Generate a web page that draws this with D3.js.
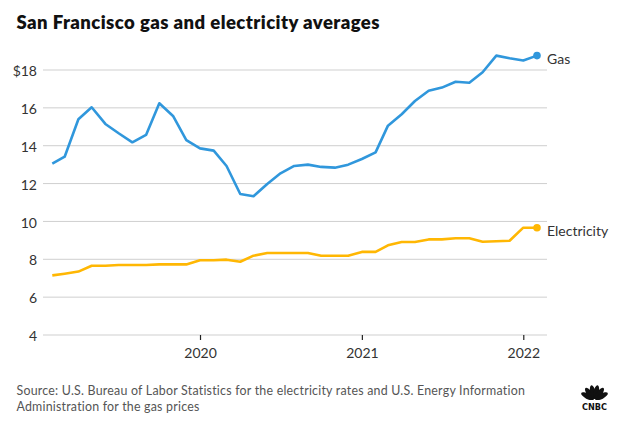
<!DOCTYPE html>
<html>
<head>
<meta charset="utf-8">
<script src="https://cdn.jsdelivr.net/npm/d3@7"></script>
<style>
  html, body { margin: 0; padding: 0; background: #fff; }
  svg { display: block; font-family: Lato, "Open Sans", sans-serif; }
</style>
</head>
<body>
<svg id="chart" width="625" height="441"></svg>
<script>
// ---- Data ----
const months = [
  "2019-02","2019-03","2019-04","2019-05","2019-06","2019-07","2019-08","2019-09","2019-10","2019-11","2019-12",
  "2020-01","2020-02","2020-03","2020-04","2020-05","2020-06","2020-07","2020-08","2020-09","2020-10","2020-11","2020-12",
  "2021-01","2021-02","2021-03","2021-04","2021-05","2021-06","2021-07","2021-08","2021-09","2021-10","2021-11","2021-12",
  "2022-01","2022-02"
];
const gas = [
  13.05, 13.42, 15.40, 16.03, 15.15, 14.66, 14.18, 14.57, 16.24, 15.57, 14.30,
  13.86, 13.74, 12.93, 11.45, 11.33, 11.98, 12.54, 12.93, 13.00, 12.88, 12.84, 13.00,
  13.30, 13.65, 15.06, 15.66, 16.36, 16.90, 17.07, 17.38, 17.33, 17.88, 18.76, 18.62,
  18.50, 18.76
];
const electricity = [
  7.15, 7.24, 7.35, 7.66, 7.66, 7.70, 7.70, 7.70, 7.73, 7.73, 7.73,
  7.95, 7.95, 7.98, 7.87, 8.19, 8.33, 8.33, 8.33, 8.33, 8.19, 8.19, 8.19,
  8.39, 8.39, 8.74, 8.91, 8.91, 9.05, 9.05, 9.11, 9.11, 8.93, 8.95, 8.98,
  9.67, 9.67
];
const yTicks = [4, 6, 8, 10, 12, 14, 16, 18];
const xTickLabels = ["2020", "2021", "2022"];
const seriesNames = ["Gas", "Electricity"];
const title = "San Francisco gas and electricity averages";
const sourceLines = [
  "Source: U.S. Bureau of Labor Statistics for the electricity rates and U.S. Energy Information",
  "Administration for the gas prices"
];

// ---- Setup ----
const svg = d3.select("#chart");
const parse = d3.timeParse("%Y-%m");
const dates = months.map(parse);
const colors = { Gas: "#3097dc", Electricity: "#ffb703" };

const gridLeft = 43, gridRight = 547;
const x = d3.scaleTime()
  .domain([dates[0], dates[dates.length - 1]])
  .range([52.3, 537]);
const y = d3.scaleLinear().domain([4, 18]).range([335, 70]);

// fit text to a target width by letter-spacing
function fitWidth(sel, target) {
  sel.each(function() {
    const w = this.getComputedTextLength();
    const n = this.textContent.length;
    if (n > 1) d3.select(this).attr("letter-spacing", ((target - w) / (n - 1)).toFixed(3));
  });
}

// Title
svg.append("text")
  .attr("x", 16.5).attr("y", 29)
  .attr("font-size", 18.5).attr("font-weight", 800)
  .attr("fill", "#111")
  .text(title)
  .call(fitWidth, 363);

// Gridlines
svg.append("g").selectAll("line").data(yTicks).join("line")
  .attr("x1", gridLeft).attr("x2", gridRight)
  .attr("y1", d => y(d)).attr("y2", d => y(d))
  .attr("stroke", "#cfcfcf").attr("stroke-width", 1);

// Y axis labels
const yAxis = d3.axisLeft(y).tickValues(yTicks).tickSize(0).tickPadding(0)
  .tickFormat(d => d === 18 ? "$18" : String(d));
const gy = svg.append("g").attr("transform", "translate(37,0)").call(yAxis);
gy.select(".domain").remove();
gy.selectAll("text").attr("font-size", 14).attr("fill", "#333")
  .attr("font-family", "Lato, sans-serif").attr("dy", "0.4em");

// X axis
const xTickDates = xTickLabels.map(s => d3.timeParse("%Y")(s));
const xAxis = d3.axisBottom(x).tickValues(xTickDates).tickSize(5).tickPadding(8)
  .tickFormat(d3.timeFormat("%Y"));
const gx = svg.append("g").attr("transform", `translate(0,${y(4)})`).call(xAxis);
gx.select(".domain").remove();
gx.selectAll("line").attr("stroke", "#222").attr("stroke-width", 1.2);
gx.selectAll("text").attr("font-size", 14).attr("fill", "#333")
  .attr("font-family", "Lato, sans-serif");

// Lines
const series = [
  { name: seriesNames[0], values: gas },
  { name: seriesNames[1], values: electricity }
];
const line = d3.line().x((d, i) => x(dates[i])).y(d => y(d));
svg.append("g").selectAll("path").data(series).join("path")
  .attr("d", d => line(d.values))
  .attr("fill", "none")
  .attr("stroke", d => colors[d.name])
  .attr("stroke-width", 2.6)
  .attr("stroke-linejoin", "round");

// End dots & labels
const last = dates.length - 1;
svg.append("g").selectAll("circle").data(series).join("circle")
  .attr("cx", x(dates[last]))
  .attr("cy", d => y(d.values[last]))
  .attr("r", 3.8)
  .attr("fill", d => colors[d.name]);
svg.append("g").selectAll("text").data(series).join("text")
  .attr("x", 547)
  .attr("y", d => y(d.values[last]) + 8.5)
  .attr("font-size", 14).attr("fill", "#333")
  .text(d => d.name);

// Source
const src = svg.append("g").selectAll("text").data(sourceLines).join("text")
  .attr("x", 16.5).attr("y", (d, i) => 395 + i * 16)
  .attr("font-size", 12.4).attr("fill", "#555")
  .text(d => d);
fitWidth(src.filter((d, i) => i === 0), 509);
fitWidth(src.filter((d, i) => i === 1), 183);

// CNBC logo (peacock + wordmark)
const logo = svg.append("g").attr("transform", "translate(594.5,400)");
const angles = [-62, -37, -12, 12, 37, 62];
logo.selectAll("ellipse").data(angles).join("ellipse")
  .attr("cx", 0).attr("cy", -8).attr("rx", 2.7).attr("ry", 7)
  .attr("transform", d => `rotate(${d})`)
  .attr("fill", "#111");
logo.append("rect").attr("x", -13).attr("y", 0).attr("width", 26).attr("height", 4).attr("fill", "#fff");
logo.append("text").attr("x", 0).attr("y", 10).attr("text-anchor", "middle")
  .attr("font-size", 8).attr("font-weight", 900)
  .attr("font-family", "'DejaVu Sans', sans-serif")
  .attr("textLength", 25).attr("lengthAdjust", "spacingAndGlyphs")
  .attr("fill", "#111").text("CNBC");
</script>
</body>
</html>
